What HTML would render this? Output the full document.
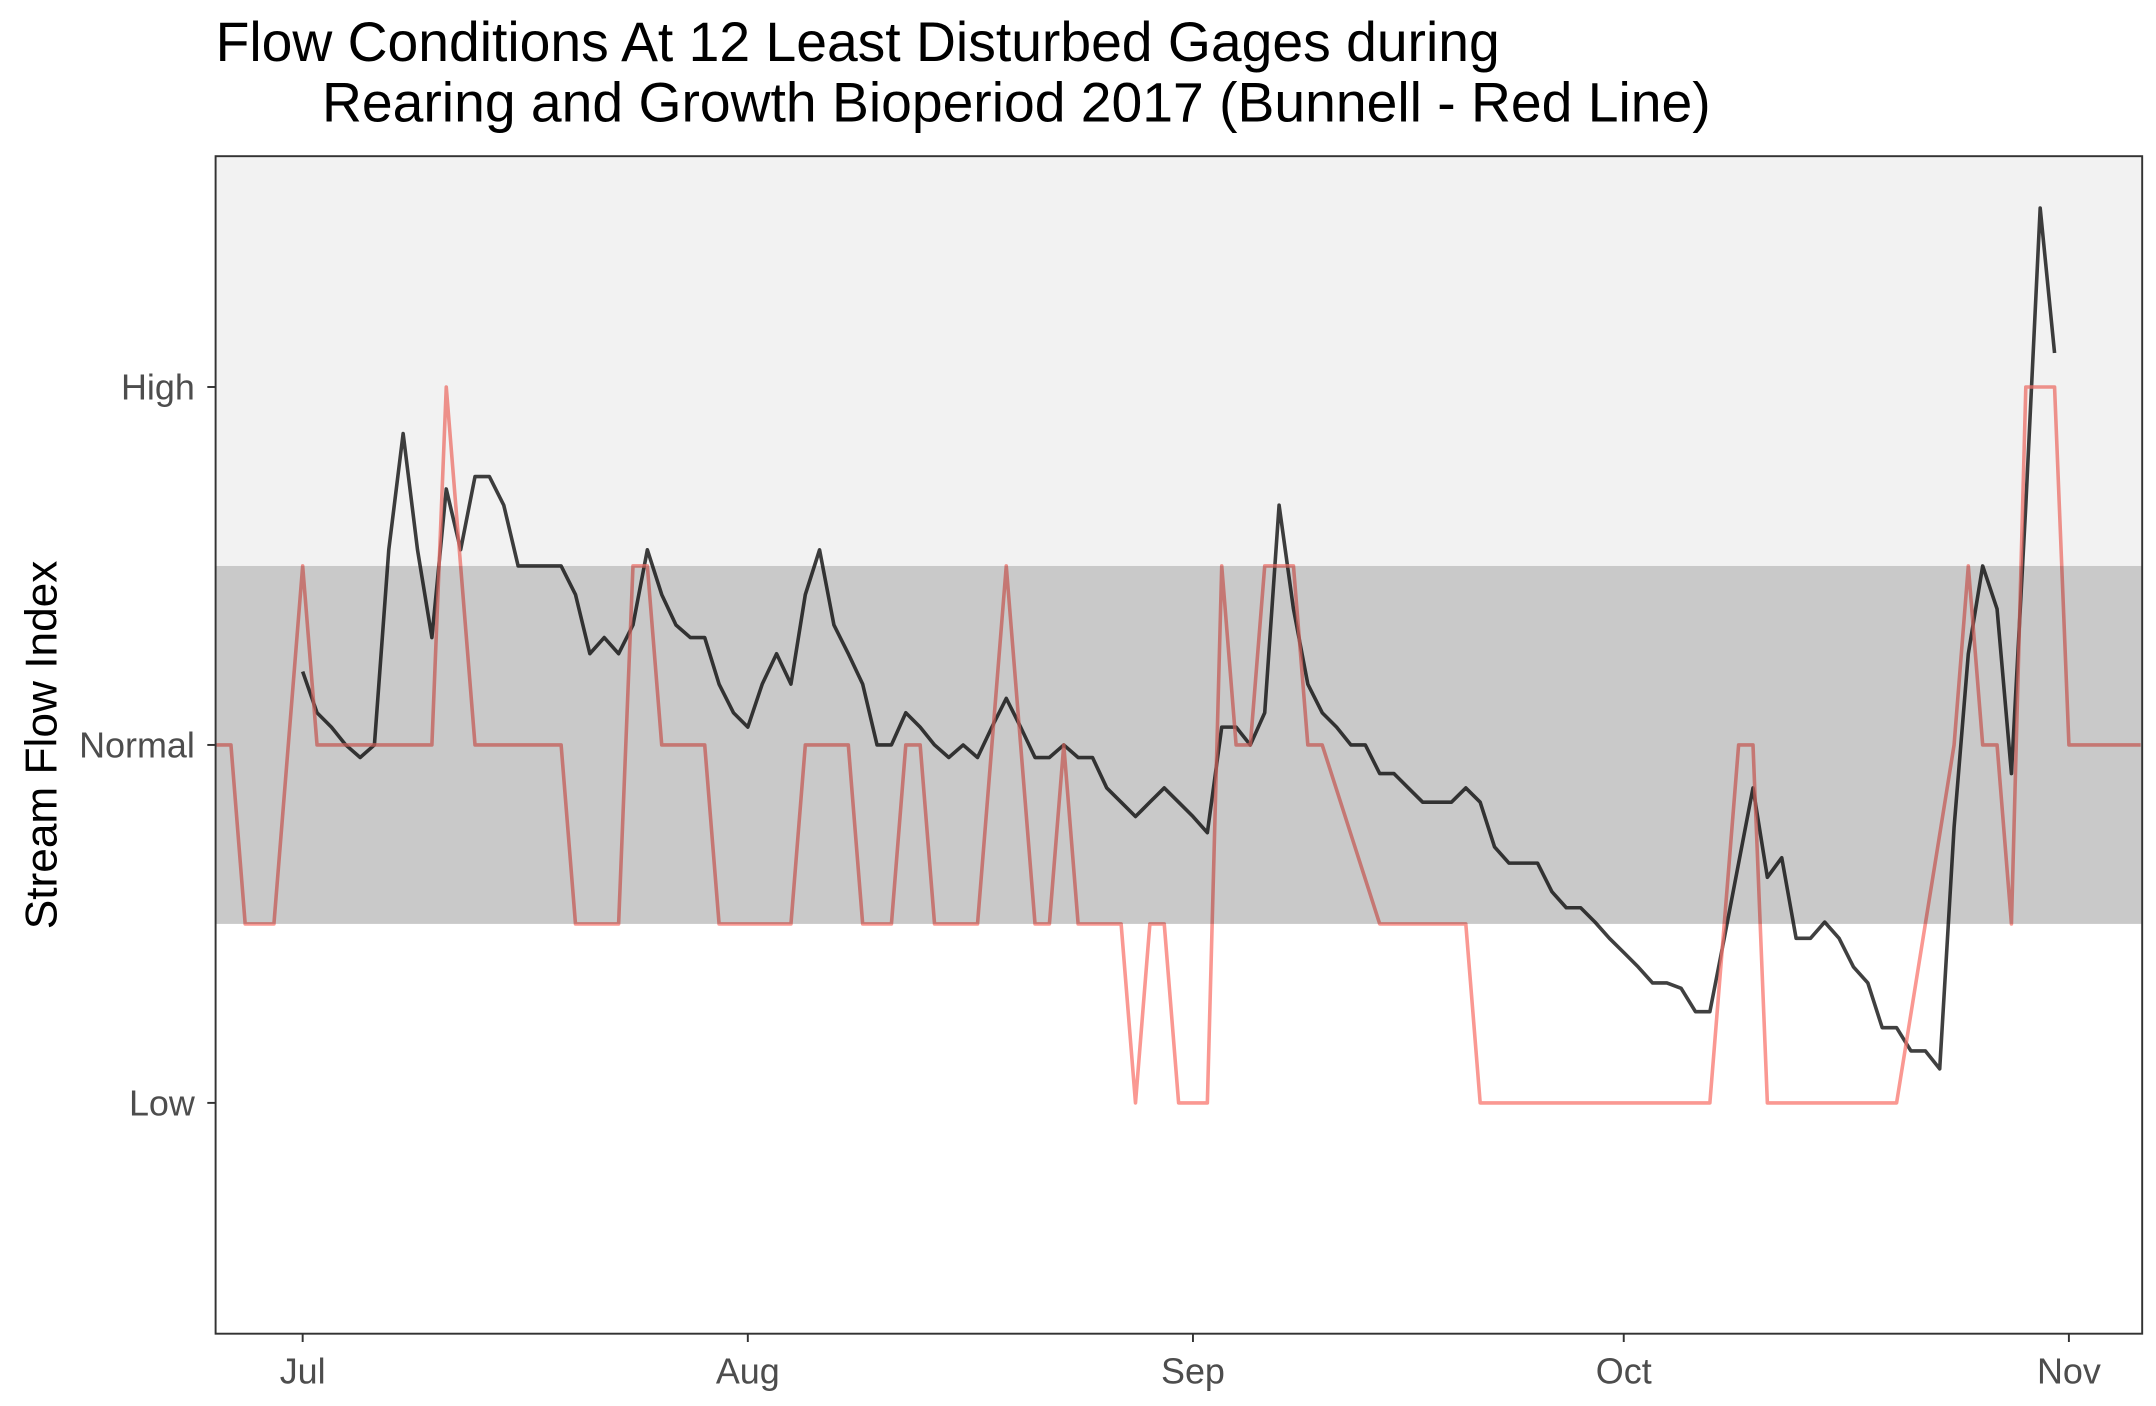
<!DOCTYPE html>
<html><head><meta charset="utf-8"><style>
html,body{margin:0;padding:0;background:#fff;}
svg{display:block;font-family:"Liberation Sans",sans-serif;}
</style></head><body>
<svg id="chart" width="2156" height="1406" viewBox="0 0 1560 1017.3" xmlns="http://www.w3.org/2000/svg">
<rect width="1560" height="1018" fill="#fff"/>
<text x="156" y="44" font-size="40" fill="#000">Flow Conditions At 12 Least Disturbed Gages during</text>
<text x="233" y="88" font-size="40" fill="#000">Rearing and Growth Bioperiod 2017 (Bunnell - Red Line)</text>
<text transform="translate(41,539) rotate(-90)" text-anchor="middle" font-size="32" fill="#000">Stream Flow Index</text>
<g id="lines"></g>
<g id="bands"></g>
<rect x="156" y="113" width="1394" height="852" fill="none" stroke="#333" stroke-width="1.4"/>
<g id="axes"></g>
</svg>
<script>
const monthLabels = ["Jul","Aug","Sep","Oct","Nov"];
const monthDays = [0,31,62,92,123];
const levelLabels = ["Low","Normal","High"];
const levelValues = [1,2,3];
const bunnellStart = -6;
const bunnell = [
2,2,1.5,1.5,1.5,2,2.5,
2,2,2,2,2,2,2,2,2,
3,2.5,
2,2,2,2,2,2,2,
1.5,1.5,1.5,1.5,
2.5,2.5,
2,2,2,2,
1.5,1.5,1.5,1.5,1.5,1.5,
2,2,2,2,
1.5,1.5,1.5,
2,2,
1.5,1.5,1.5,1.5,
2,2.5,2,
1.5,1.5,
2,
1.5,1.5,1.5,1.5,
1,
1.5,1.5,
1,1,1,
2.5,2,2,
2.5,2.5,2.5,
2,2,1.875,1.75,1.625,
1.5,1.5,1.5,1.5,1.5,1.5,1.5,
1,1,1,1,1,1,1,1,1,1,1,1,1,1,1,1,1,
1.5,2,2,
1,1,1,1,1,1,1,1,1,1,
1.25,1.5,1.75,2,2.5,2,2,1.5,3,3,3,
2,2,2,2,2,2];
const medianStart = 0;
const median = [2.205,2.09,2.05,2.0,1.965,2.0,2.545,2.87,2.545,2.3,2.715,2.545,2.75,2.75,2.67,2.5,2.5,2.5,2.5,2.42,2.255,2.3,2.255,2.335,2.545,2.42,2.335,2.3,2.3,2.17,2.09,2.05,2.17,2.255,2.17,2.42,2.545,2.335,2.255,2.17,2.0,2.0,2.09,2.05,2.0,1.965,2.0,1.965,2.05,2.13,2.05,1.965,1.965,2.0,1.965,1.965,1.88,1.84,1.8,1.84,1.88,1.84,1.8,1.755,2.05,2.05,2.0,2.09,2.67,2.38,2.17,2.09,2.05,2.0,2.0,1.92,1.92,1.88,1.84,1.84,1.84,1.88,1.84,1.715,1.67,1.67,1.67,1.59,1.545,1.545,1.505,1.46,1.42,1.38,1.335,1.335,1.32,1.255,1.255,1.46,1.67,1.88,1.63,1.685,1.46,1.46,1.505,1.46,1.38,1.335,1.21,1.21,1.145,1.145,1.095,1.77,2.255,2.5,2.38,1.92,2.67,3.5,3.095];

const NS="http://www.w3.org/2000/svg";
const X0=156,X1=1550,Y0=113,Y1=965;
function xs(d){return 219+d*10.39;}
function ys(v){return 539-(v-2)*259;}
function mk(tag,attrs,parent){const e=document.createElementNS(NS,tag);for(const k in attrs)e.setAttribute(k,attrs[k]);document.getElementById(parent).appendChild(e);return e;}

function path(arr,start){return arr.map((v,i)=>(i?'L':'M')+xs(start+i).toFixed(1)+','+ys(v).toFixed(1)).join('');}
let p=mk('path',{d:path(median,medianStart),fill:'none',stroke:'#000','stroke-opacity':0.75,'stroke-width':2.6,'stroke-linejoin':'round'},'lines');


p=mk('path',{d:path(bunnell,bunnellStart),fill:'none',stroke:'#F8766D','stroke-opacity':0.75,'stroke-width':2.6,'stroke-linejoin':'round'},'lines');



let b=mk('rect',{x:X0,y:Y0,width:X1-X0,height:ys(2.5)-Y0,fill:'#000','fill-opacity':0.051},'bands');


b=mk('rect',{x:X0,y:ys(2.5),width:X1-X0,height:ys(1.5)-ys(2.5),fill:'#000','fill-opacity':0.21},'bands');



levelValues.forEach((v,i)=>{
  const y=ys(v);
  let t=mk('line',{x1:150,x2:156,y1:y,y2:y,stroke:'#333','stroke-width':1.4},'axes');
  
  
  let l=mk('text',{x:141,y:y+9,'text-anchor':'end','font-size':26,fill:'#4d4d4d'},'axes');
  l.textContent=levelLabels[i];
  
  
});
monthDays.forEach((d,i)=>{
  const x=xs(d);
  let t=mk('line',{x1:x,x2:x,y1:965,y2:971,stroke:'#333','stroke-width':1.4},'axes');
  
  
  let l=mk('text',{x:x,y:1001,'text-anchor':'middle','font-size':26,fill:'#4d4d4d'},'axes');
  l.textContent=monthLabels[i];
  
  
});
</script>
</body></html>
